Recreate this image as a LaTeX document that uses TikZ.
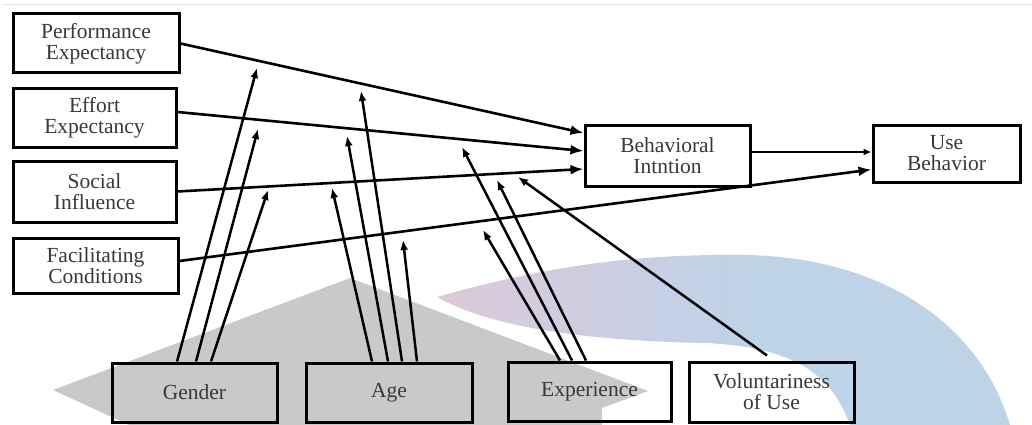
\documentclass[tikz,border=0pt]{standalone}
\usepackage{fontspec}
\setmainfont{Liberation Serif}
\usetikzlibrary{arrows.meta,calc}
\definecolor{txt}{HTML}{383838}
\definecolor{arcpink}{HTML}{DCC9D9}
\definecolor{arcblue}{HTML}{BED2E8}
\definecolor{wmgray}{HTML}{C9C9C9}
\definecolor{topline}{HTML}{E0E0E0}
\pgfdeclarehorizontalshading{arcshade}{100bp}{color(0bp)=(arcpink); color(25bp)=(arcpink); color(52bp)=(arcblue); color(100bp)=(arcblue)}
\begin{document}
\begin{tikzpicture}[x=1pt,y=-1pt,
  box/.style={draw=black,line width=3pt,inner sep=0pt,align=center,text=txt,
    font=\fontsize{21.5}{21}\selectfont},
  mainarrow/.style={line width=2.6pt,-{Latex[length=13pt,width=10pt]}},
  smallarrow/.style={line width=2.6pt,-{Latex[length=8pt,width=7pt]}},
  modarrow/.style={line width=2.5pt,-{Latex[length=10pt,width=8pt]}}]
\useasboundingbox (0,0) rectangle (1032,425);
% watermark background
\fill[wmgray] (53,390) -- (350,278) -- (648,391) -- (602,408) -- (602,425) -- (129,425) -- cycle;
\shade[shading=arcshade] (437,297) .. controls (560,262) and (650,254) .. (745,255)
  .. controls (875,257) and (978,318) .. (1010,425) -- (850,425)
  .. controls (832,375) and (795,347) .. (705,343)
  .. controls (600,341) and (495,330) .. (437,297) -- cycle;
\draw[topline,line width=1pt] (3,5) -- (1032,5);
% boxes
\node[box,minimum width=166pt,minimum height=59pt] (pe) at (96,43.5) {Performance\\Expectancy};
\node[box,minimum width=163pt,minimum height=58pt] (ee) at (94.5,118) {Effort\\Expectancy};
\node[box,minimum width=163pt,minimum height=61pt] (si) at (94.5,191.5) {Social\\Influence};
\node[box,minimum width=165pt,minimum height=55pt] (fc) at (95.5,265.5) {Facilitating\\Conditions};
\node[box,minimum width=165pt,minimum height=61pt] (bi) at (667.5,155.5) {Behavioral\\Intntion};
\node[box,minimum width=147pt,minimum height=57pt] (ub) at (946.5,153.5) {Use\\Behavior};
\node[box,minimum width=165pt,minimum height=59pt] (gender) at (194.5,392.5) {Gender};
\node[box,minimum width=166pt,minimum height=59pt] (age) at (389,392.5) {Age};
\node[box,minimum width=163pt,minimum height=59pt] (exp) at (589.5,391.5) {Experience};
\node[box,minimum width=165pt,minimum height=60pt] (vol) at (771.5,392) {Voluntariness\\of Use};
% main paths
\draw[mainarrow] (pe.east) -- ([yshift=22.5pt]bi.west);
\draw[mainarrow] ([yshift=6pt]ee.east) -- ([yshift=4.5pt]bi.west);
\draw[mainarrow] (si.east) -- ([yshift=-13.5pt]bi.west);
\draw[mainarrow] ([yshift=4.5pt]fc.east) -- ([yshift=-16pt]ub.west);
\draw[smallarrow] ([yshift=3.5pt]bi.east) -- ([yshift=3.5pt]bi.east -| ub.west);
% moderator tips
\coordinate (g1) at (257,68);
\coordinate (g2) at (258,129);
\coordinate (g3) at (268,190);
\coordinate (a1) at (361,91);
\coordinate (a2) at (347,136);
\coordinate (a3) at (332,188);
\coordinate (a4) at (403,240);
\coordinate (e1) at (462,147);
\coordinate (e2) at (497,180);
\coordinate (e3) at (483,230);
\coordinate (v1) at (518,177);
% gender
\draw[modarrow] ([xshift=-17.5pt]gender.north) -- (g1);
\draw[modarrow] ([xshift=1.5pt]gender.north) -- (g2);
\draw[modarrow] ([xshift=16.5pt]gender.north) -- (g3);
% age
\draw[modarrow] ([xshift=13pt]age.north) -- (a1);
\draw[modarrow] ([xshift=-1pt]age.north) -- (a2);
\draw[modarrow] ([xshift=-17pt]age.north) -- (a3);
\draw[modarrow] ([xshift=28pt]age.north) -- (a4);
% experience
\draw[modarrow] ([xshift=-17.5pt]exp.north) -- (e1);
\draw[modarrow] ([xshift=-3.5pt]exp.north) -- (e2);
\draw[modarrow] ([xshift=-29.5pt]exp.north) -- (e3);
% voluntariness
\draw[modarrow] ([xshift=-4.5pt,yshift=5pt]vol.north) -- (v1);
\end{tikzpicture}
\end{document}
